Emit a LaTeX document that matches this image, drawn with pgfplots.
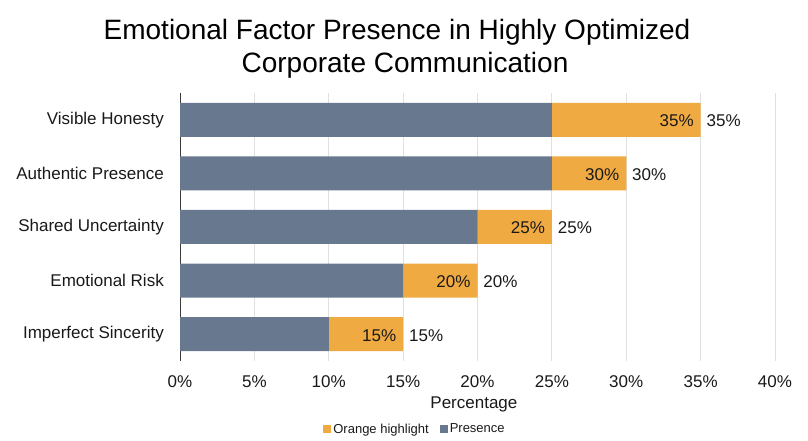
\documentclass[border=0pt]{standalone}
\usepackage{pgfplots}
\pgfplotsset{compat=1.18}
\usepackage{pgfplotstable}
\usepackage{fontspec}
\setmainfont{Liberation Sans}

\definecolor{presence}{RGB}{104,121,143}
\definecolor{highlight}{RGB}{240,170,66}
\definecolor{gridc}{RGB}{224,224,224}
\definecolor{axisc}{RGB}{60,60,60}
\definecolor{txt}{RGB}{25,25,25}

% pos: row from bottom; presence + highlight = total
\pgfplotstableread{
pos presence highlight total
0 10 5 15
1 15 5 20
2 20 5 25
3 25 5 30
4 25 10 35
}\factors

\begin{document}
\begin{tikzpicture}[x=1pt,y=1pt]
\path[use as bounding box] (0,0) rectangle (808,441);
\node[anchor=base, font=\fontsize{28}{33}\selectfont, text=black] at (397,401) {Emotional Factor Presence in Highly Optimized};
\node[anchor=base, font=\fontsize{28}{33}\selectfont, text=black] at (405,368) {Corporate Communication};
\begin{axis}[
  at={(180pt,80pt)}, anchor=south west,
  scale only axis, width=595pt, height=268pt,
  xbar stacked, bar width=34pt,
  xmin=0, xmax=40, ymin=-0.5, ymax=4.5,
  xtick={0,5,...,40},
  xticklabel={\pgfmathprintnumber{\tick}\%},
  ytick={0,1,2,3,4},
  yticklabels={Imperfect Sincerity, Emotional Risk, Shared Uncertainty, Authentic Presence, Visible Honesty},
  axis lines*=left,
  x axis line style={draw=none},
  y axis line style={draw=axisc, line width=1pt},
  major tick length=0pt,
  xmajorgrids, grid style={draw=gridc, line width=0.8pt},
  tick label style={font=\fontsize{17}{20}\selectfont, text=txt},
  xticklabel style={anchor=base, yshift=-27pt},
  yticklabel style={anchor=east, inner sep=0pt, xshift=-16pt},
  xlabel={Percentage},
  xlabel style={at={(axis description cs:0.494,-0.176)}, anchor=base, font=\fontsize{17}{20}\selectfont, text=txt},
  legend style={at={(0.395,-0.254)}, anchor=center, draw=none, fill=none,
    legend columns=2, font=\fontsize{13}{15}\selectfont, text=txt,
    /tikz/every even column/.append style={column sep=9pt}},
  legend image code/.code={\fill[#1] (0pt,-4pt) rectangle (8pt,4pt);},
  reverse legend,
  /pgf/number format/assume math mode=true,
]
\addplot[fill=presence, draw=none] table[x=presence, y=pos] {\factors};
\addlegendentry{Presence}
% labels sit mid-segment; shift them by half the segment (595pt/40 per unit) to the bar end
\addplot[fill=highlight, draw=none,
  point meta=explicit,
  visualization depends on={\thisrow{highlight} \as \seglen},
  nodes near coords={\llap{\pgfmathprintnumber{\pgfplotspointmeta}\%\hspace{7pt}}\rlap{\hspace{6pt}\pgfmathprintnumber{\pgfplotspointmeta}\%}},
  every node near coord/.append style={anchor=center, inner sep=0pt,
    xshift={\seglen*7.4375pt}, yshift=-1pt, font=\fontsize{17}{20}\selectfont, text=txt},
] table[x=highlight, y=pos, meta=total] {\factors};
\addlegendentry{Orange highlight}
\end{axis}
\end{tikzpicture}
\end{document}
